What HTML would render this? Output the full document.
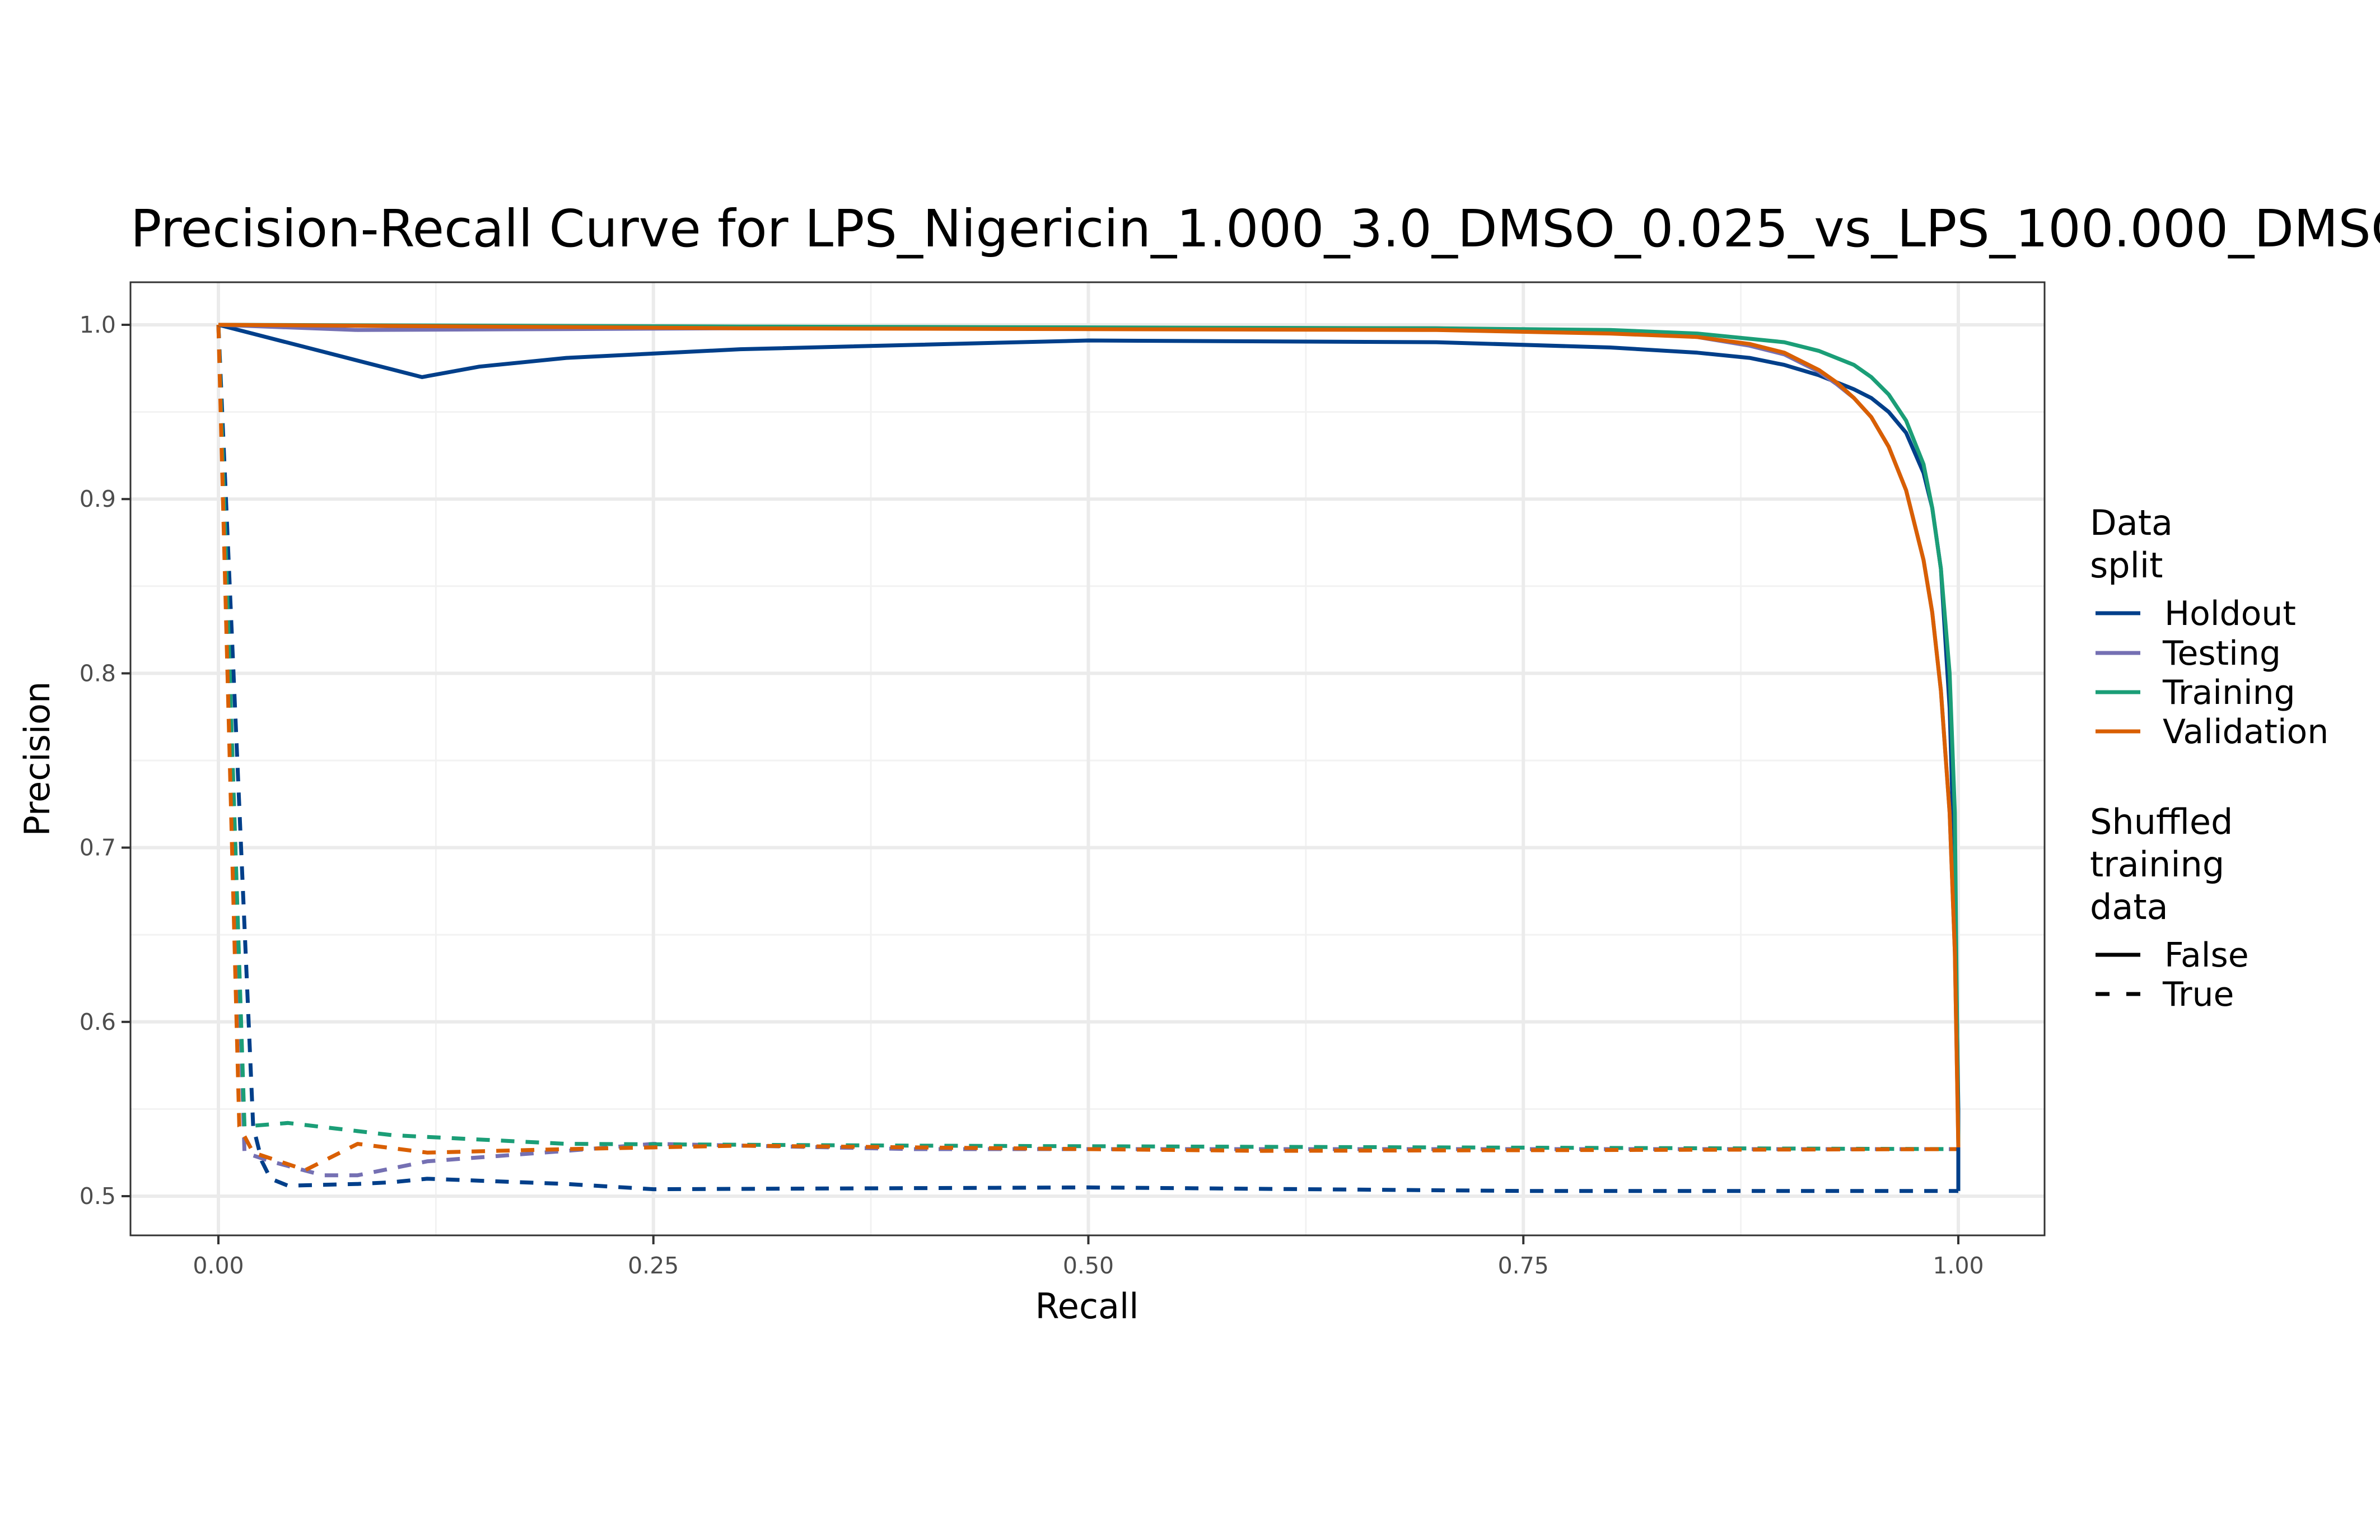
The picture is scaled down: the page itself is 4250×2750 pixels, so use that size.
<!DOCTYPE html>
<html><head><meta charset="utf-8"><style>
html,body{margin:0;padding:0;background:#fff}
svg{display:block;font-family:"DejaVu Sans","Liberation Sans",sans-serif}
</style></head><body>
<svg id="chart" width="4250" height="2750" viewBox="0 0 4250 2750" xmlns="http://www.w3.org/2000/svg">
<rect width="4250" height="2750" fill="#fff"/>
<text x="233" y="440" font-size="92" fill="#000">Precision-Recall Curve for LPS_Nigericin_1.000_3.0_DMSO_0.025_vs_LPS_100.000_DMSO_0.025</text>
<g id="grid"></g>
<g id="series"></g>
<rect x="233" y="504" width="3418" height="1702" fill="none" stroke="#333" stroke-width="3"/>
<g id="axes"></g>
<text x="1941" y="2354" font-size="62" text-anchor="middle">Recall</text>
<text transform="translate(88,1355) rotate(-90)" font-size="62" text-anchor="middle">Precision</text>
<g font-size="62">
<text x="3732" y="955">Data</text>
<text x="3732" y="1031">split</text>
<line x1="3742" y1="1095" x2="3822" y2="1095" stroke="#003f8a" stroke-width="7"/>
<text x="3865" y="1116" font-size="60">Holdout</text>
<line x1="3742" y1="1166" x2="3822" y2="1166" stroke="#7570b3" stroke-width="7"/>
<text x="3862" y="1187" font-size="60">Testing</text>
<line x1="3742" y1="1236" x2="3822" y2="1236" stroke="#1b9e77" stroke-width="7"/>
<text x="3862" y="1257" font-size="60">Training</text>
<line x1="3742" y1="1306" x2="3822" y2="1306" stroke="#d95f02" stroke-width="7"/>
<text x="3862" y="1327" font-size="60">Validation</text>
<text x="3732" y="1489">Shuffled</text>
<text x="3732" y="1565">training</text>
<text x="3732" y="1641">data</text>
<line x1="3742" y1="1705" x2="3822" y2="1705" stroke="#000" stroke-width="7"/>
<text x="3865" y="1726" font-size="60">False</text>
<line x1="3742" y1="1775" x2="3822" y2="1775" stroke="#000" stroke-width="7" stroke-dasharray="25 30"/>
<text x="3862" y="1796" font-size="60">True</text>
</g>
</svg>
<script>
const xTicks=[0,0.25,0.5,0.75,1.0];
const xTickLabels=["0.00","0.25","0.50","0.75","1.00"];
const yTicks=[0.5,0.6,0.7,0.8,0.9,1.0];
const yTickLabels=["0.5","0.6","0.7","0.8","0.9","1.0"];
const holdoutR=[0,0.117,0.15,0.2,0.3,0.5,0.7,0.8,0.85,0.88,0.9,0.92,0.94,0.95,0.96,0.97,0.98,0.985,0.99,0.995,0.998,1.0,1.0];
const holdoutP=[1.0,0.970,0.976,0.981,0.986,0.991,0.990,0.987,0.984,0.981,0.977,0.971,0.963,0.958,0.950,0.938,0.915,0.895,0.86,0.78,0.68,0.55,0.503];
const testingR=[0,0.08,0.3,0.7,0.8,0.85,0.88,0.9,0.92,0.93,0.94,0.95,0.96,0.97,0.98,0.985,0.99,0.995,0.998,1.0];
const testingP=[1.0,0.997,0.998,0.998,0.996,0.993,0.988,0.983,0.973,0.966,0.958,0.947,0.93,0.905,0.865,0.835,0.79,0.72,0.64,0.53];
const trainingR=[0,0.3,0.7,0.8,0.85,0.9,0.92,0.94,0.95,0.96,0.97,0.98,0.985,0.99,0.995,0.998,1.0];
const trainingP=[1.0,0.999,0.998,0.997,0.995,0.99,0.985,0.977,0.970,0.960,0.945,0.92,0.895,0.86,0.80,0.72,0.53];
const validationR=[0,0.3,0.7,0.8,0.85,0.88,0.9,0.92,0.93,0.94,0.95,0.96,0.97,0.98,0.985,0.99,0.995,0.998,1.0];
const validationP=[1.0,0.998,0.997,0.995,0.993,0.989,0.984,0.974,0.967,0.958,0.947,0.93,0.905,0.865,0.835,0.79,0.72,0.64,0.528];
const holdoutShufR=[0,0.02,0.025,0.03,0.04,0.08,0.1,0.12,0.2,0.25,0.5,0.75,0.9,1.0];
const holdoutShufP=[1.0,0.54,0.52,0.51,0.506,0.507,0.508,0.510,0.507,0.504,0.505,0.503,0.503,0.503];
const testingShufR=[0,0.015,0.03,0.06,0.08,0.12,0.2,0.25,0.4,1.0];
const testingShufP=[1.0,0.525,0.52,0.512,0.512,0.52,0.526,0.53,0.527,0.527];
const trainingShufR=[0,0.015,0.04,0.1,0.2,0.4,1.0];
const trainingShufP=[1.0,0.54,0.542,0.535,0.530,0.529,0.527];
const validationShufR=[0,0.012,0.02,0.05,0.08,0.12,0.2,0.3,0.6,1.0];
const validationShufP=[1.0,0.54,0.525,0.515,0.53,0.525,0.527,0.529,0.526,0.527];

const NS="http://www.w3.org/2000/svg";
const X0=390,X1=3497,Y0=2136,Y1=580;
function xs(v){return X0+(X1-X0)*v;}
function ys(v){return Y0+(Y1-Y0)*(v-0.5)/0.5;}
function mk(tag,attrs,parent){const e=document.createElementNS(NS,tag);for(const k in attrs)e.setAttribute(k,attrs[k]);parent.appendChild(e);return e;}
const grid=document.getElementById('grid'),axes=document.getElementById('axes'),ser=document.getElementById('series');
for(let i=0;i<xTicks.length-1;i++){const v=(xTicks[i]+xTicks[i+1])/2;
 const l=mk('line',{x1:xs(v),x2:xs(v),y1:504,y2:2206,stroke:'#f2f2f2','stroke-width':3},grid);
 
 }
for(let i=0;i<yTicks.length-1;i++){const v=(yTicks[i]+yTicks[i+1])/2;
 const l=mk('line',{x1:233,x2:3651,y1:ys(v),y2:ys(v),stroke:'#f2f2f2','stroke-width':3},grid);
 
 }
xTicks.forEach((v,i)=>{
 const l=mk('line',{x1:xs(v),x2:xs(v),y1:504,y2:2206,stroke:'#ebebeb','stroke-width':6},grid);
 
 
 const t=mk('line',{x1:xs(v),x2:xs(v),y1:2206,y2:2222,stroke:'#333','stroke-width':4},axes);
 
 
 const tx=mk('text',{x:xs(v),y:2274,'font-size':41,'text-anchor':'middle',fill:'#4d4d4d'},axes);
 tx.textContent=xTickLabels[i];
 
 
});
yTicks.forEach((v,i)=>{
 const l=mk('line',{x1:233,x2:3651,y1:ys(v),y2:ys(v),stroke:'#ebebeb','stroke-width':6},grid);
 
 
 const t=mk('line',{x1:217,x2:233,y1:ys(v),y2:ys(v),stroke:'#333','stroke-width':4},axes);
 
 
 const tx=mk('text',{x:207,y:ys(v)+14,'font-size':41,'text-anchor':'end',fill:'#4d4d4d'},axes);
 tx.textContent=yTickLabels[i];
 
 
});
function line(R,P,color,dashed,name){
 const d=R.map((r,i)=>(i?'L':'M')+xs(r).toFixed(1)+','+ys(P[i]).toFixed(1)).join('');
 const p=mk('path',{d:d,fill:'none',stroke:color,'stroke-width':7,'stroke-linejoin':'round'},ser);
 if(dashed)p.setAttribute('stroke-dasharray','24 20');
 
 
}
line(holdoutShufR,holdoutShufP,'#003f8a',true,'line-holdout-shuffled');
line(testingShufR,testingShufP,'#7570b3',true,'line-testing-shuffled');
line(trainingShufR,trainingShufP,'#1b9e77',true,'line-training-shuffled');
line(validationShufR,validationShufP,'#d95f02',true,'line-validation-shuffled');
line(holdoutR,holdoutP,'#003f8a',false,'line-holdout');
line(testingR,testingP,'#7570b3',false,'line-testing');
line(trainingR,trainingP,'#1b9e77',false,'line-training');
line(validationR,validationP,'#d95f02',false,'line-validation');
</script>
</body></html>
